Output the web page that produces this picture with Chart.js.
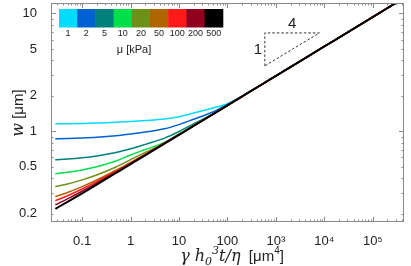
<!DOCTYPE html>
<html>
<head>
<meta charset="utf-8">
<script src="https://cdn.jsdelivr.net/npm/chart.js@4.4.1/dist/chart.umd.min.js"></script>
<style>
  html, body { margin: 0; padding: 0; background: #fff; }
  #wrap { width: 411px; height: 266px; }
</style>
</head>
<body>
<div id="wrap"><canvas id="myChart" width="411" height="266"></canvas></div>
<script>
// データ
const xValues = [0.028, 0.05, 0.1, 0.2, 0.5, 1, 2, 5, 10, 20, 50, 100, 200, 500, 1000, 1e4, 1e5, 4e5];

const muLabels = ['1', '2', '5', '10', '20', '50', '100', '200', '500'];
const muColors = ['#00DCFF', '#0062D2', '#00807A', '#00E04A', '#6E9018', '#B06400', '#FF1A1A', '#920020', '#000000'];

const wMu1   = [1.158, 1.160, 1.166, 1.174, 1.192, 1.213, 1.235, 1.272, 1.330, 1.428, 1.575, 1.715, 1.990, 2.487, 2.954, 5.251, 9.336, 13.20];
const wMu2   = [0.864, 0.869, 0.877, 0.889, 0.916, 0.947, 0.985, 1.050, 1.140, 1.265, 1.460, 1.690, 1.992, 2.490, 2.955, 5.250, 9.336, 13.20];
const wMu5   = [0.573, 0.581, 0.596, 0.618, 0.662, 0.711, 0.775, 0.875, 0.997, 1.157, 1.405, 1.665, 1.975, 2.483, 2.952, 5.250, 9.336, 13.20];
const wMu10  = [0.436, 0.449, 0.470, 0.500, 0.559, 0.630, 0.700, 0.805, 0.950, 1.122, 1.398, 1.661, 1.974, 2.483, 2.952, 5.250, 9.336, 13.20];
const wMu20  = [0.339, 0.357, 0.387, 0.426, 0.498, 0.575, 0.662, 0.795, 0.940, 1.115, 1.397, 1.660, 1.974, 2.483, 2.952, 5.250, 9.336, 13.20];
const wMu50  = [0.279, 0.303, 0.339, 0.386, 0.467, 0.545, 0.640, 0.796, 0.940, 1.113, 1.396, 1.660, 1.974, 2.483, 2.952, 5.250, 9.336, 13.20];
const wMu100 = [0.258, 0.284, 0.324, 0.374, 0.458, 0.538, 0.634, 0.792, 0.938, 1.111, 1.396, 1.660, 1.974, 2.483, 2.952, 5.250, 9.336, 13.20];
const wMu200 = [0.238, 0.267, 0.310, 0.363, 0.450, 0.532, 0.629, 0.788, 0.936, 1.110, 1.396, 1.660, 1.974, 2.483, 2.952, 5.250, 9.336, 13.20];
const wMu500 = [0.220, 0.252, 0.298, 0.353, 0.443, 0.526, 0.625, 0.785, 0.934, 1.110, 1.396, 1.660, 1.974, 2.483, 2.952, 5.250, 9.336, 13.20];

const wSeries = [wMu1, wMu2, wMu5, wMu10, wMu20, wMu50, wMu100, wMu200, wMu500];

const xTickValues = [0.1, 1, 10, 100, 1000, 1e4, 1e5];
const xTickLabels = ['0.1', '1', '10', '100', '10³', '10⁴', '10⁵'];
const yTickValues = [0.2, 0.5, 1, 2, 5, 10];
const yTickLabels = ['0.2', '0.5', '1', '2', '5', '10'];

// 傾き 1/4 の三角形 (データ座標)
const slopeTri = { x0: 590, x1: 7900, yTop: 6.84, yBottom: 3.59 };

// 小目盛りの値
function minorValues(min, max) {
  const out = [];
  for (let e = Math.floor(Math.log10(min)); e <= Math.ceil(Math.log10(max)); e++) {
    for (let m = 1; m <= 9; m++) {
      const v = m * Math.pow(10, e);
      if (v >= min && v <= max) out.push({ v: v, major: m === 1 });
    }
  }
  return out;
}

// 枠と内向きの目盛り
const framePlugin = {
  id: 'frame-plugin',
  afterDraw: function (chart) {
    const { ctx, chartArea: { top, bottom, left, right }, scales: { x, y } } = chart;
    ctx.save();
    ctx.strokeStyle = '#8a8a8a';
    ctx.lineWidth = 1;
    ctx.strokeRect(left + 0.5, top + 0.5, right - left - 1, bottom - top - 1);
    ctx.beginPath();
    minorValues(x.min, x.max).forEach(function (t) {
      const px = Math.round(x.getPixelForValue(t.v)) + 0.5;
      const len = t.major ? 5 : 2.5;
      ctx.moveTo(px, bottom); ctx.lineTo(px, bottom - len);
      ctx.moveTo(px, top); ctx.lineTo(px, top + len);
    });
    minorValues(y.min, y.max).forEach(function (t) {
      const py = Math.round(y.getPixelForValue(t.v)) + 0.5;
      const len = t.major ? 5 : 2.5;
      ctx.moveTo(left, py); ctx.lineTo(left + len, py);
      ctx.moveTo(right, py); ctx.lineTo(right - len, py);
    });
    ctx.stroke();
    ctx.restore();
  }
};

// 文字列を部品ごとに描く
function drawPieces(ctx, pieces, cx, cy) {
  let total = 0;
  pieces.forEach(function (p) { ctx.font = p.font; p.w = ctx.measureText(p.text).width; total += p.w; });
  let xPos = cx - total / 2;
  ctx.textBaseline = 'alphabetic';
  ctx.textAlign = 'left';
  pieces.forEach(function (p) {
    ctx.font = p.font;
    ctx.fillText(p.text, xPos, cy + (p.dy || 0));
    xPos += p.w;
  });
}

// 軸タイトル・凡例・三角形
const annotationPlugin = {
  id: 'annotation-plugin',
  afterDraw: function (chart) {
    const { ctx, scales: { x, y } } = chart;
    ctx.save();
    ctx.fillStyle = '#222';

    const it = 'italic 16px "DejaVu Serif", "Liberation Serif", serif';
    const itSmall = 'italic 11px "DejaVu Serif", "Liberation Serif", serif';
    const sans = '15px "Liberation Sans", Arial, sans-serif';
    const sansSmall = '10px "Liberation Sans", Arial, sans-serif';

    // x 軸タイトル
    drawPieces(ctx, [
      { text: 'γ ', font: it },
      { text: 'h', font: it },
      { text: '0', font: itSmall, dy: 4 },
      { text: '3', font: itSmall, dy: -7 },
      { text: 't/η', font: it },
      { text: '  [μm', font: sans },
      { text: '4', font: sansSmall, dy: -7 },
      { text: ']', font: sans },
    ], 232, 261);

    // y 軸タイトル
    ctx.save();
    ctx.translate(23, 113);
    ctx.rotate(-Math.PI / 2);
    drawPieces(ctx, [
      { text: 'w', font: it },
      { text: ' [μm]', font: sans },
    ], 0, 0);
    ctx.restore();

    // カラーバー凡例
    const bx = 59, by = 9, bw = 18.2, bh = 18.5;
    ctx.font = '9px "Liberation Sans", Arial, sans-serif';
    ctx.textAlign = 'center';
    ctx.textBaseline = 'middle';
    muColors.forEach(function (c, i) {
      ctx.fillStyle = c;
      ctx.fillRect(bx + i * bw, by, bw + 0.5, bh);
      ctx.fillStyle = '#222';
      ctx.fillText(muLabels[i], bx + i * bw + bw / 2, 34);
    });
    ctx.font = '11px "Liberation Sans", Arial, sans-serif';
    ctx.fillText('μ [kPa]', 134, 50);

    // 傾き三角形
    const x0 = x.getPixelForValue(slopeTri.x0);
    const x1 = x.getPixelForValue(slopeTri.x1);
    const yt = y.getPixelForValue(slopeTri.yTop);
    const yb = y.getPixelForValue(slopeTri.yBottom);
    ctx.strokeStyle = '#333';
    ctx.lineWidth = 1;
    ctx.setLineDash([2.5, 2]);
    ctx.beginPath();
    ctx.moveTo(x0, yb); ctx.lineTo(x0, yt); ctx.lineTo(x1, yt); ctx.closePath();
    ctx.stroke();
    ctx.setLineDash([]);
    ctx.font = '15px "Liberation Sans", Arial, sans-serif';
    ctx.fillStyle = '#222';
    ctx.fillText('4', (x0 + x1) / 2, yt - 9);
    ctx.fillText('1', x0 - 7, (yt + yb) / 2);

    ctx.restore();
  }
};

const datasets = wSeries.map(function (ws, i) {
  return {
    label: muLabels[i],
    data: xValues.map(function (xv, j) { return { x: xv, y: ws[j] }; }),
    borderColor: muColors[i],
    borderWidth: i === wSeries.length - 1 ? 2 : 1.5,
    pointRadius: 0,
    cubicInterpolationMode: 'monotone',
    fill: false,
    order: wSeries.length - i,
  };
});

const chart = new Chart(document.getElementById('myChart'), {
  type: 'line',
  data: { datasets: datasets },
  options: {
    responsive: false,
    animation: false,
    layout: { padding: { top: 3, right: 7, left: 0, bottom: 0 } },
    plugins: {
      legend: { display: false },
      tooltip: { enabled: false },
    },
    scales: {
      x: {
        type: 'logarithmic',
        min: 0.0228,
        max: 4.4e5,
        grid: { display: false },
        border: { display: false },
        afterBuildTicks: function (axis) {
          axis.ticks = xTickValues.map(function (v) { return { value: v }; });
        },
        afterFit: function (axis) {
          axis.height = 44;
          axis.paddingLeft = 0;
          axis.paddingRight = 0;
        },
        ticks: {
          autoSkip: false,
          maxRotation: 0,
          padding: 4,
          color: '#222',
          font: { family: '"Liberation Sans", Arial, sans-serif', size: 13 },
          callback: function (v, i) { return xTickLabels[i]; },
        },
      },
      y: {
        type: 'logarithmic',
        min: 0.17,
        max: 12.27,
        grid: { display: false },
        border: { display: false },
        afterBuildTicks: function (axis) {
          axis.ticks = yTickValues.map(function (v) { return { value: v }; });
        },
        afterFit: function (axis) {
          axis.width = 51;
          axis.paddingTop = 0;
          axis.paddingBottom = 0;
        },
        ticks: {
          autoSkip: false,
          padding: 6,
          color: '#222',
          font: { family: '"Liberation Sans", Arial, sans-serif', size: 13 },
          callback: function (v, i) { return yTickLabels[i]; },
        },
      },
    },
  },
  plugins: [framePlugin, annotationPlugin],
});
</script>
</body>
</html>
